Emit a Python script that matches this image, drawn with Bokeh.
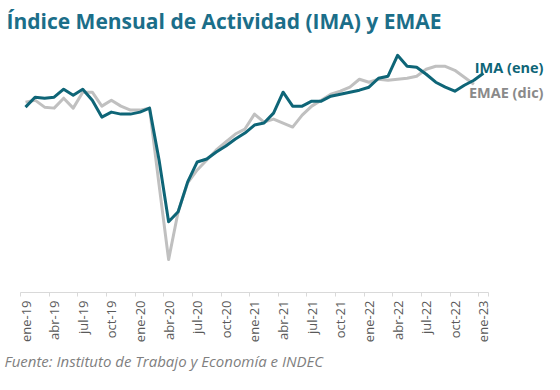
import math
from bokeh.plotting import figure
from bokeh.models import FixedTicker, Label, Range1d, Title
from bokeh.embed import file_html
from bokeh.resources import INLINE

# Months since ene-19 (0 = ene-19 ... 48 = ene-23)
months_ima = list(range(49))
months_emae = list(range(48))

ima = [143.25, 145.75, 145.5, 145.75, 147.75, 146.25, 147.75, 145.0, 140.75, 142.0,
       141.5, 141.5, 142.0, 143.0, 130.0, 114.5, 117.0, 124.5, 129.5, 130.25,
       132.0, 133.5, 135.25, 136.75, 138.75, 139.25, 141.75, 147.0, 143.5, 143.5,
       144.75, 144.75, 146.0, 146.5, 147.0, 147.5, 148.25, 150.5, 151.0, 156.25,
       153.5, 153.25, 151.5, 149.5, 148.25, 147.25, 148.75, 150.0, 151.75]

emae = [144.5, 145.0, 143.25, 143.0, 145.5, 143.0, 147.0, 147.0, 143.5, 145.0,
        143.5, 142.5, 142.5, 143.0, 123.75, 105.0, 117.0, 124.25, 127.5, 130.0,
        132.5, 134.5, 136.5, 137.75, 141.5, 139.5, 140.25, 139.25, 138.25, 141.25,
        143.5, 145.0, 146.5, 147.25, 148.25, 150.25, 149.5, 150.25, 150.0, 150.25,
        150.5, 151.0, 152.75, 153.5, 153.5, 152.5, 150.75, 149.0]

tick_months = list(range(0, 49, 3))
tick_labels = ["ene-19", "abr-19", "jul-19", "oct-19", "ene-20", "abr-20", "jul-20",
               "oct-20", "ene-21", "abr-21", "jul-21", "oct-21", "ene-22", "abr-22",
               "jul-22", "oct-22", "ene-23"]

title_text = "Índice Mensual de Actividad (IMA) y EMAE"
source_text = "Fuente: Instituto de Trabajo y Economía e INDEC"
ima_label = "IMA (ene)"
emae_label = "EMAE (dic)"

TEAL = "#0e6577"
TITLE_TEAL = "#1b6e89"
GRAY_LINE = "#c0c0c0"
GRAY_TEXT = "#8a8a8a"

p = figure(width=544, height=374, output_backend="svg", toolbar_location=None,
           x_range=Range1d(-2.621, 54.40), y_range=Range1d(96.75, 170.0),
           min_border_left=0, min_border_right=0, min_border_top=0,
           min_border_bottom=81)
p.outline_line_color = None
p.grid.visible = False
p.yaxis.visible = False
p.background_fill_color = "white"
p.border_fill_color = "white"

p.line(months_emae, emae, line_color=GRAY_LINE, line_width=3, line_join="round")
p.line(months_ima, ima, line_color=TEAL, line_width=3, line_join="round")

xa = p.xaxis[0]
xa.ticker = FixedTicker(ticks=tick_months,
                        minor_ticks=[m - 0.5 for m in tick_months] + [48.5])
xa.major_label_overrides = {m: lab for m, lab in zip(tick_months, tick_labels)}
xa.bounds = (-0.5, 48.5)
xa.axis_line_color = "#d9d9d9"
xa.axis_line_width = 1
xa.major_tick_out = 0
xa.major_tick_in = 0
xa.minor_tick_out = 4
xa.minor_tick_in = 0
xa.minor_tick_line_color = "#d9d9d9"
xa.major_label_orientation = math.pi / 2
xa.major_label_text_font = "Open Sans"
xa.major_label_text_font_size = "13px"
xa.major_label_text_color = "#595959"
xa.major_label_standoff = 4

p.add_layout(Title(text=source_text, align="left", text_font="Open Sans",
                   text_font_style="italic", text_font_size="15px",
                   text_color="#7f7f7f", standoff=7, offset=4), "below")

p.add_layout(Label(x=6, y=272, x_units="screen", y_units="screen", text=title_text,
                   text_font="Open Sans", text_font_style="bold", text_font_size="21px",
                   text_color=TITLE_TEAL, text_baseline="alphabetic", text_align="left"))
p.add_layout(Label(x=543, y=225, x_units="screen", y_units="screen", text=ima_label,
                   text_font="Open Sans", text_font_style="bold", text_font_size="14.5px",
                   text_color=TEAL, text_baseline="middle", text_align="right"))
p.add_layout(Label(x=543, y=200, x_units="screen", y_units="screen", text=emae_label,
                   text_font="Open Sans", text_font_style="bold", text_font_size="14.5px",
                   text_color=GRAY_TEXT, text_baseline="middle", text_align="right"))

open("out.html", "w").write(file_html(p, INLINE))
